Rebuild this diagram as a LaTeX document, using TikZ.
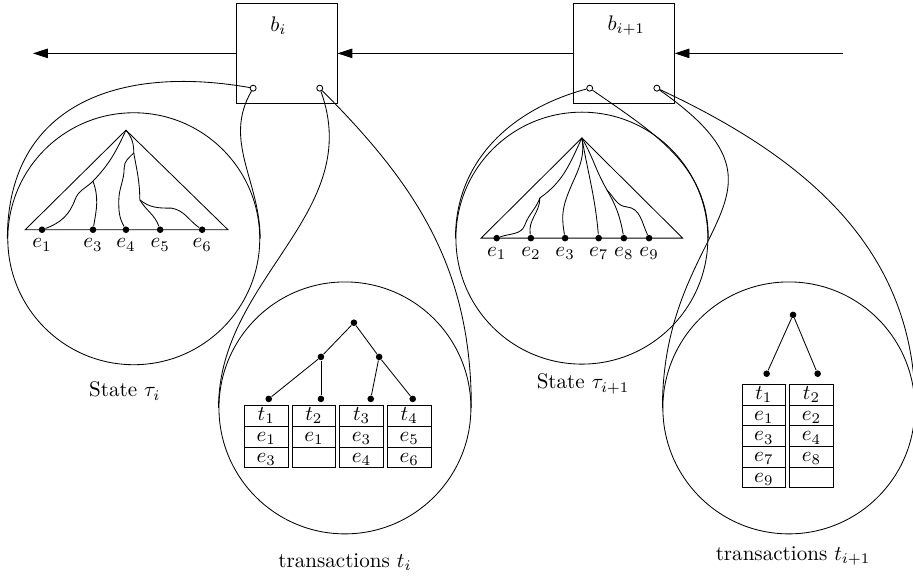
\documentclass[tikz,border=0pt]{standalone}
\usetikzlibrary{arrows.meta,matrix,positioning}

\begin{document}
\begin{tikzpicture}[
    block/.style = {draw, minimum size=1.68cm, inner sep=0},
    port/.style = {circle, draw, fill=white, inner sep=0, minimum size=0.1cm},
    bubble/.style = {circle, draw, minimum size=4.2cm, inner sep=0},
    leaf/.style = {circle, fill, inner sep=0, minimum size=0.11cm},
    flow/.style = {-{Triangle[length=7pt, width=4.5pt]}},
    txtab/.style = {matrix of math nodes, nodes in empty cells,
        column sep=0.05cm, row sep=-0.4pt,
        nodes={draw, minimum width=0.73cm, minimum height=0.345cm,
            text height=1.4ex, text depth=0.35ex,
            inner sep=0, outer sep=0, anchor=center}}
  ]
  \useasboundingbox (0,0) rectangle (15.22,9.65);

  \node[block] (bi) at (4.78,8.76) {};
  \node[block] (bj) at (10.40,8.76) {};
  \node[anchor=west] (biname) at ([xshift=0.45cm, yshift=-0.38cm]bi.north west) {$b_i$};
  \node[anchor=west] (bjname) at ([xshift=0.45cm, yshift=-0.38cm]bj.north west) {$b_{i+1}$};

  \coordinate (chainL) at (0.55,8.76);
  \coordinate (chainR) at (14.05,8.76);
  \draw[flow] (bi.west) -- (chainL);
  \draw[flow] (bj.west) -- (bi.east);
  \draw[flow] (chainR) -- (bj.east);

  \node[port] (piL) at ([xshift=-0.56cm, yshift=-0.58cm]bi.center) {};
  \node[port] (piR) at ([xshift=0.55cm, yshift=-0.58cm]bi.center) {};
  \node[port] (pjL) at ([xshift=-0.57cm, yshift=-0.58cm]bj.center) {};
  \node[port] (pjR) at ([xshift=0.55cm, yshift=-0.58cm]bj.center) {};

  \node[bubble] (stL) at (2.23,5.67) {};
  \node[bubble] (stR) at (9.70,5.68) {};
  \node[bubble] (txL) at (5.75,2.85) {};
  \node[bubble] (txR) at (13.15,2.85) {};

  \draw (piL) to[out=170, in=90, looseness=1.2] (stL.west);
  \draw (piL) to[out=-120, in=90] (stL.east);
  \draw (piR) to[out=-70, in=90] (txL.west);
  \draw (piR) to[out=-45, in=90] (txL.east);
  \draw (pjL) to[out=195, in=90] (stR.west);
  \draw (pjL) to[out=-35, in=90] (stR.east);
  \draw (pjR) to[out=-35, in=90, looseness=1.5] (txR.west);
  \draw (pjR) to[out=-25, in=90] (txR.east);

  % state tau_i
  \coordinate (topL) at (2.10,7.48);
  \draw (topL) -- (0.42,5.82) -- (3.80,5.82) -- cycle;
  \foreach \n/\x in {1/0.70,3/1.55,4/2.10,5/2.67,6/3.37}
    \node[leaf, label={[label distance=-1pt]below:$e_{\n}$}] (sL\n) at (\x,5.82) {};
  \coordinate (brA) at (1.55,6.63);
  \coordinate (brB) at (2.23,7.10);
  \coordinate (brC) at (2.33,6.32);
  \draw (topL) to[out=-115, in=46] (brA);
  \draw (brA) to[out=-135, in=70] (1.25,6.32) to[out=-110, in=20] (sL1);
  \draw (brA) to[out=-70, in=80] (sL3);
  \draw (topL) to[out=-50, in=90] (brB);
  \draw (brB) to[out=-135, in=90] (2.07,6.85) to[out=-90, in=90] (1.98,6.30) to[out=-90, in=120] (sL4);
  \draw (brB) to[out=-80, in=90] (brC);
  \draw (brC) to[out=-60, in=110] (sL5);
  \draw (brC) to[out=-40, in=180] (2.86,6.18) to[out=-10, in=145] (sL6);

  % state tau_{i+1}
  \coordinate (topR) at (9.70,7.35);
  \draw (topR) -- (8.02,5.68) -- (11.38,5.68) -- cycle;
  \foreach \n/\x in {1/8.28,2/8.85,3/9.42,7/9.98,8/10.40,9/10.82}
    \node[leaf, label={[label distance=-1pt]below:$e_{\n}$}] (sR\n) at (\x,5.68) {};
  \coordinate (brD) at (9.00,6.35);
  \coordinate (brE) at (10.12,6.48);
  \draw (topR) to[out=-115, in=35] (brD);
  \draw (brD) to[out=-110, in=70] (8.75,5.90) to[out=-110, in=20] (sR1);
  \draw (brD) to[out=-90, in=100] (sR2);
  \draw (topR) to[out=-80, in=70] (9.45,6.37) to[out=-110, in=100] (sR3);
  \draw (topR) to[out=-80, in=95] (sR7);
  \draw (topR) to[out=-60, in=120] (brE);
  \draw (brE) to[out=-60, in=100] (sR8);
  \draw (brE) to[out=-45, in=175] (10.45,6.20) to[out=-5, in=115] (sR9);

  % transactions t_i
  \node[leaf] (rL) at (5.90,4.27) {};
  \node[leaf] (mL1) at (5.35,3.70) {};
  \node[leaf] (mL2) at (6.32,3.70) {};
  \foreach \n/\x in {1/4.48,2/5.35,3/6.18,4/6.88}
    \node[leaf] (tL\n) at (\x,3.00) {};
  \draw (rL) -- (mL1);
  \draw (rL) -- (mL2);
  \draw (mL1) -- (tL1);
  \draw (mL1) -- (tL2);
  \draw (mL2) -- (tL3);
  \draw (mL2) -- (tL4);
  \matrix[txtab] (tabL) at (5.63,2.37) {
    t_1 & t_2 & t_3 & t_4 \\
    e_1 & e_1 & e_3 & e_5 \\
    e_3 &     & e_4 & e_6 \\
  };

  % transactions t_{i+1}
  \node[leaf] (rR) at (13.22,4.40) {};
  \node[leaf] (tR1) at (12.78,3.42) {};
  \node[leaf] (tR2) at (13.63,3.42) {};
  \draw (rR) -- (tR1);
  \draw (rR) -- (tR2);
  \matrix[txtab] (tabR) at (13.13,2.38) {
    t_1 & t_2 \\
    e_1 & e_2 \\
    e_3 & e_4 \\
    e_7 & e_8 \\
    e_9 &     \\
  };

  \node (stLname) at (2.08,3.13) {State $\tau_i$};
  \node (stRname) at (9.72,3.25) {State $\tau_{i+1}$};
  \node (txLname) at (5.75,0.28) {transactions $t_i$};
  \node (txRname) at (13.22,0.38) {transactions $t_{i+1}$};
\end{tikzpicture}
\end{document}
